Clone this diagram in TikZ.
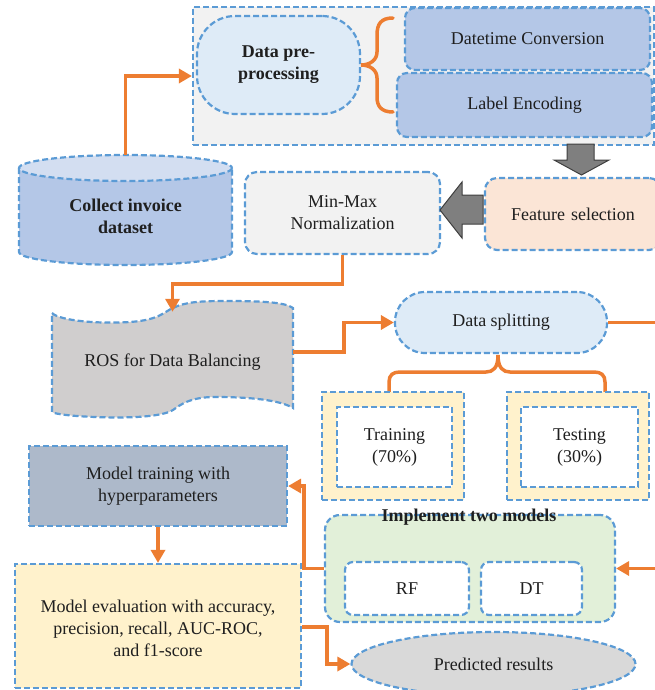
\documentclass[tikz,border=0pt]{standalone}
\usepackage{fontspec}
\setmainfont{Liberation Serif}
\usetikzlibrary{arrows.meta,shapes.geometric,calc}
\definecolor{bl}{HTML}{5B9BD5}
\definecolor{org}{HTML}{ED7D31}
\definecolor{txt}{HTML}{1F1F1F}
\definecolor{lgrey}{HTML}{F2F2F2}
\definecolor{lblue}{HTML}{DEEBF7}
\definecolor{mblue}{HTML}{B4C7E7}
\definecolor{cyltop}{HTML}{D3DEF1}
\definecolor{peach}{HTML}{FBE5D6}
\definecolor{rosgrey}{HTML}{D0CECE}
\definecolor{cream}{HTML}{FFF2CC}
\definecolor{slate}{HTML}{ADB9CA}
\definecolor{lgreen}{HTML}{E2F0D9}
\definecolor{pgrey}{HTML}{D9D9D9}
\definecolor{arrgrey}{HTML}{7F7F7F}
\definecolor{arrdark}{HTML}{3F3F3F}
\begin{document}
\begin{tikzpicture}[x=1pt,y=-1pt,
  dline/.style={draw=bl, line width=2.2pt, dash pattern=on 6pt off 3pt},
  dbox/.style={dline, align=center, text=txt, font=\fontsize{18}{22}\selectfont, inner sep=0pt},
  plain/.style={align=center, text=txt, font=\fontsize{18}{22}\selectfont, inner sep=0pt},
  conn/.style={draw=org, line width=3.5pt},
  arr/.style={conn, -{Triangle[length=13pt,width=14pt]}},
  brace/.style={draw=org, line width=3.5pt, line cap=round},
  blockarrow/.style={fill=arrgrey, draw=arrdark, line width=1pt},
]
\clip (0,0) rectangle (655,690);

% top container
\node[dbox, fill=lgrey, minimum width=461pt, minimum height=138pt] (container) at (423.5,76) {};
\node[dbox, fill=lblue, rounded corners=38pt, minimum width=163pt, minimum height=98pt, font=\fontsize{18}{22}\selectfont\bfseries] (prep) at (278.5,65) {Data pre-\\processing};
\node[dbox, fill=mblue, rounded corners=10pt, minimum width=245pt, minimum height=62pt] (dtc) at (527.5,39) {Datetime Conversion};
\node[dbox, fill=mblue, rounded corners=10pt, minimum width=255pt, minimum height=64pt] (lenc) at (524.5,105) {Label Encoding};
\draw[brace] (393,18) .. controls (381,18) and (377,24) .. (377,35) -- (377,52) .. controls (377,60) and (370,65) .. (361,65) .. controls (370,65) and (377,70) .. (377,78) -- (377,97) .. controls (377,106) and (381,112) .. (393,112);

% cylinder
\path[fill=mblue] (19,168) rectangle (232,252);
\path[fill=mblue] (19,252) .. controls (19,259.2) and (66.7,265) .. (125.5,265) .. controls (184.3,265) and (232,259.2) .. (232,252) -- cycle;
\draw[dline] (19,168) -- (19,252) .. controls (19,259.2) and (66.7,265) .. (125.5,265) .. controls (184.3,265) and (232,259.2) .. (232,252) -- (232,168);
\draw[dline, fill=cyltop] (125.5,168) ellipse [x radius=106.5, y radius=13];
\node[plain, minimum width=213pt, minimum height=110pt, font=\fontsize{18}{22}\selectfont\bfseries] (collect) at (125.5,210) {\\[4pt]Collect invoice\\dataset};

% row 2
\node[dbox, fill=lgrey, rounded corners=12pt, minimum width=195pt, minimum height=82pt] (minmax) at (342.5,213) {Min-Max\\Normalization};
\node[dbox, fill=peach, rounded corners=12pt, minimum width=176pt, minimum height=72pt, text width=176pt] (feat) at (573,214) {Feature selection};
\path[blockarrow] (567,144) -- (594,144) -- (594,160) -- (609,160) -- (581.5,175) -- (554,160) -- (567,160) -- cycle;
\path[blockarrow] (483,195) -- (462,195) -- (462,182) -- (440,210) -- (462,238) -- (462,224) -- (483,224) -- cycle;

% ROS tape
\path[dline, fill=rosgrey] (52,313) .. controls (60,321) and (100,324) .. (130,322)
  .. controls (160,320) and (165,311) .. (173,308) .. controls (185,302) and (200,301) .. (225,301)
  .. controls (260,301) and (285,302) .. (293,308)
  -- (293,408) .. controls (280,400) and (250,397) .. (215,397) .. controls (190,397) and (180,405) .. (173,410)
  .. controls (160,418) and (120,418) .. (95,417) .. controls (70,416) and (55,414) .. (52,412) -- cycle;
\node[plain, minimum width=241pt, minimum height=100pt] (ros) at (172.5,362) {ROS for Data Balancing};

% data splitting
\node[dbox, fill=lblue, rounded corners=30pt, minimum width=212pt, minimum height=61pt] (split) at (501,322.5) {Data splitting};
\draw[brace] (389,392) -- (389,382) .. controls (389,375) and (393,372) .. (400,372) -- (486,372) .. controls (493,372) and (498,368) .. (498,355) .. controls (498,368) and (503,372) .. (510,372) -- (594,372) .. controls (601,372) and (605,375) .. (605,382) -- (605,392);

\node[dbox, fill=cream, minimum width=142pt, minimum height=108pt] (trainO) at (393,446) {};
\node[dbox, fill=white, minimum width=115pt, minimum height=80pt] (train) at (394.5,447) {Training\\(70\%)};
\node[dbox, fill=cream, minimum width=142pt, minimum height=108pt] (testO) at (578,446) {};
\node[dbox, fill=white, minimum width=117pt, minimum height=80pt] (test) at (579.5,447) {Testing\\(30\%)};

% models
\node[dbox, fill=slate, minimum width=258pt, minimum height=80pt] (mtrain) at (158,486) {Model training with\\hyperparameters};
\node[dbox, fill=cream, minimum width=286pt, minimum height=124pt] (meval) at (158,626) {\\[-4pt]Model evaluation with accuracy,\\precision, recall, AUC-ROC,\\and f1-score};
\node[dbox, fill=lgreen, rounded corners=15pt, minimum width=290pt, minimum height=107pt] (green) at (470,568.5) {};
\node[plain, font=\fontsize{18}{22}\selectfont\bfseries] (title) at (469,517) {Implement two models};
\node[dbox, fill=white, rounded corners=8pt, minimum width=124pt, minimum height=53pt] (rf) at (407,588.5) {RF};
\node[dbox, fill=white, rounded corners=8pt, minimum width=101pt, minimum height=53pt] (dt) at (531.5,588.5) {DT};
\node[dbox, ellipse, fill=pgrey, minimum width=284pt, minimum height=64pt] (pred) at (493.5,664) {Predicted results};

% connectors
\coordinate (rightA) at (662,322.5);
\coordinate (rightB) at (662,568.5);
\draw[arr] (collect.north) |- (container.west);
\draw[arr] (minmax.south) -- ++(0,29) -| (ros.north);
\draw[arr] ([yshift=10pt]ros.east) -- ++(51,0) |- (split.west);
\draw[conn] (split.east) -- (rightA);
\draw[arr] (rightB) -- (green.east);
\draw[arr] (green.west) -- ++(-20,0) |- (mtrain.east);
\draw[arr] (mtrain.south) -- (meval.north);
\draw[arr] ([yshift=-1pt]meval.east) -- ++(25,0) |- (pred.west);
\end{tikzpicture}
\end{document}
